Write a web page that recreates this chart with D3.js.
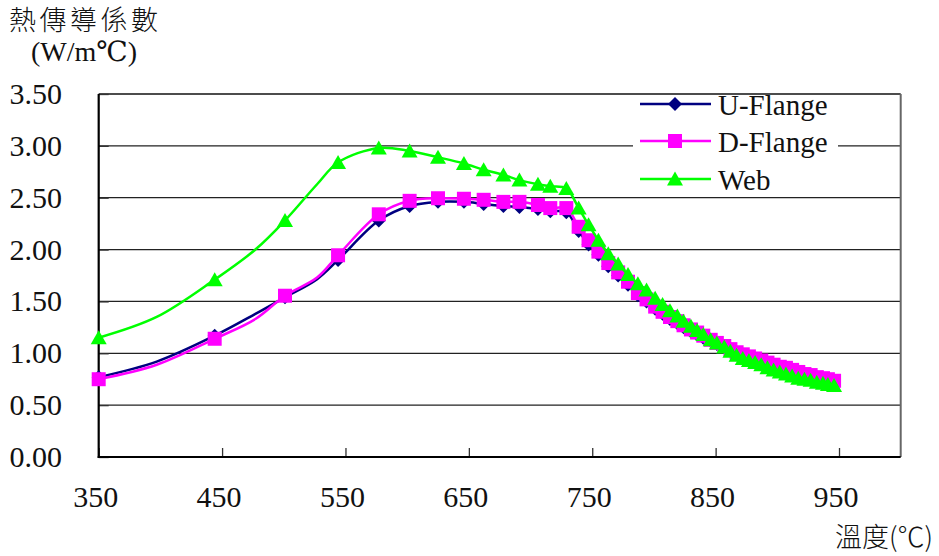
<!DOCTYPE html>
<html><head><meta charset="utf-8">
<script src="https://cdn.jsdelivr.net/npm/d3@7"></script>
<style>body{margin:0;background:#fff}svg{display:block}.sf{font-family:"Liberation Serif","Times New Roman",Times,Tinos,"DejaVu Serif","Noto Serif",serif}.cjk{font-family:"Noto Sans CJK TC","Noto Sans CJK SC",sans-serif}</style>
</head><body><svg id="c" width="939" height="556"></svg>
<script>
const temps = [350,397,444,477,501,527,544,577,602,625,646,662,678,691,706,716,729,739,747,755,763,771,779,787,794,801,807,813,819,824,830,835,840,846,851,857,862,867,872,877,882,887,892,897,902,907,912,917,922,927,932,937,941,946];
const unmarkedTemps = [397,477,527];
const uFlange = [0.77,0.92,1.17,1.38,1.54,1.715,1.90,2.28,2.42,2.46,2.46,2.44,2.42,2.41,2.39,2.37,2.36,2.18,2.05,1.95,1.84,1.75,1.66,1.56,1.50,1.43,1.38,1.33,1.29,1.25,1.21,1.18,1.15,1.12,1.09,1.06,1.03,1.00,0.98,0.96,0.94,0.92,0.90,0.88,0.86,0.85,0.83,0.81,0.79,0.78,0.76,0.75,0.74,0.72];
const dFlange = [0.75,0.89,1.14,1.33,1.555,1.73,1.945,2.34,2.47,2.495,2.49,2.48,2.46,2.46,2.43,2.40,2.40,2.22,2.09,1.98,1.87,1.78,1.69,1.58,1.52,1.45,1.40,1.35,1.31,1.27,1.23,1.20,1.17,1.13,1.10,1.07,1.04,1.01,0.99,0.97,0.95,0.93,0.91,0.89,0.87,0.86,0.84,0.82,0.80,0.79,0.77,0.76,0.75,0.735];
const web = [1.15,1.35,1.71,2.00,2.28,2.63,2.84,2.98,2.95,2.89,2.83,2.77,2.72,2.67,2.63,2.61,2.59,2.40,2.24,2.09,1.96,1.86,1.76,1.67,1.61,1.53,1.47,1.41,1.36,1.31,1.26,1.22,1.18,1.13,1.10,1.06,1.02,0.98,0.95,0.93,0.91,0.89,0.86,0.84,0.82,0.80,0.78,0.76,0.75,0.74,0.72,0.71,0.70,0.69];
const seriesNames = ["U-Flange","D-Flange","Web"];
const seriesColors = ["#000080","#FF00FF","#00FF00"];
const seriesMarkers = ["diamond","square","triangle"];
const xTicks = [350,450,550,650,750,850,950];
const yTicks = [0,0.5,1,1.5,2,2.5,3,3.5];
const yTitle1 = "熱傳導係數", yTitle2 = "(W/m℃)", xTitle = "溫度(℃)";

const svg = d3.select("#c");
const L = 98.7, R = 900.7, T = 94, B = 457;
const x = d3.scaleLinear().domain([350,1000]).range([L,R]);
const y = d3.scaleLinear().domain([0,3.5]).range([B,T]);

svg.append("g").selectAll("line").data(yTicks.filter(v=>v>0 && v<3.5)).join("line")
  .attr("x1",L).attr("x2",R).attr("y1",d=>y(d)).attr("y2",d=>y(d))
  .attr("stroke","#222").attr("stroke-width",1.3);
svg.append("line").attr("x1",L).attr("x2",R).attr("y1",T).attr("y2",T).attr("stroke","#111").attr("stroke-width",1.5);
svg.append("line").attr("x1",R).attr("x2",R).attr("y1",T).attr("y2",B).attr("stroke","#666").attr("stroke-width",2);

const yAxis = d3.axisRight(y).tickValues(yTicks).tickSize(10).tickFormat("");
const gy = svg.append("g").attr("transform",`translate(${L},0)`).call(yAxis);
gy.select(".domain").remove();
gy.selectAll(".tick line").attr("stroke","#333").attr("stroke-width",1.3);
const xAxis = d3.axisTop(x).tickValues(xTicks).tickSize(9).tickFormat("");
const gx = svg.append("g").attr("transform",`translate(0,${B})`).call(xAxis);
gx.select(".domain").remove();
gx.selectAll(".tick line").attr("stroke","#333").attr("stroke-width",1.3);
svg.append("line").attr("x1",L).attr("x2",L).attr("y1",T).attr("y2",B+1).attr("stroke","#000").attr("stroke-width",2.2);
svg.append("line").attr("x1",L-1).attr("x2",R).attr("y1",B).attr("y2",B).attr("stroke","#000").attr("stroke-width",2.2);

svg.append("g").selectAll("text").data(yTicks).join("text").attr("class","sf")
  .attr("x",62).attr("y",d=>y(d)+10).attr("text-anchor","end")
  .attr("font-size",30).attr("fill","#111")
  .text(d=>d3.format(".2f")(d));
svg.append("g").selectAll("text").data(xTicks).join("text").attr("class","sf")
  .attr("x",d=>x(d)-3).attr("y",507).attr("text-anchor","middle")
  .attr("font-size",30).attr("fill","#111")
  .text(d=>d);

svg.append("text").attr("class","cjk").attr("x",9).attr("y",30)
  .attr("font-size",27).attr("font-weight",300).attr("letter-spacing",3.5).attr("fill","#111").text(yTitle1);
svg.append("text").attr("class","sf").attr("x",31).attr("y",61)
  .attr("font-size",28).attr("fill","#111").text(yTitle2);
svg.append("text").attr("class","cjk").attr("x",933).attr("y",547).attr("text-anchor","end")
  .attr("font-size",27).attr("font-weight",300).attr("fill","#111").text(xTitle);

function markerPath(kind){
  if(kind==="diamond") return "M0,-7L7,0L0,7L-7,0Z";
  if(kind==="square") return "M-7,-7H7V7H-7Z";
  return "M0,-7.5L8,6.5H-8Z";
}

const allSeries = [uFlange,dFlange,web];
const line = d3.line().x(d=>x(d.t)).y(d=>y(d.v)).curve(d3.curveCatmullRom.alpha(0.5));
allSeries.forEach((vals,i)=>{
  const pts = temps.map((t,j)=>({t, v: vals[j]}));
  const g = svg.append("g");
  g.append("path").attr("d",line(pts)).attr("fill","none")
    .attr("stroke",seriesColors[i]).attr("stroke-width",2.5);
  g.selectAll("path.m").data(pts.filter(p=>!unmarkedTemps.includes(p.t))).join("path")
    .attr("class","m").attr("d",markerPath(seriesMarkers[i]))
    .attr("transform",p=>`translate(${x(p.t)},${y(p.v)})`)
    .attr("fill",seriesColors[i]);
});

const lg = svg.append("g");
lg.append("rect").attr("x",633).attr("y",95).attr("width",205).attr("height",100).attr("fill","#fff");
const rows = [104,141,179];
seriesNames.forEach((n,i)=>{
  lg.append("line").attr("x1",640).attr("x2",711).attr("y1",rows[i]).attr("y2",rows[i])
    .attr("stroke",seriesColors[i]).attr("stroke-width",2.5);
  lg.append("path").attr("d",markerPath(seriesMarkers[i]))
    .attr("transform",`translate(675,${rows[i]})`).attr("fill",seriesColors[i]);
  lg.append("text").attr("class","sf").attr("x",718).attr("y",rows[i]+11)
    .attr("font-size",29).attr("fill","#111").text(n);
});
</script></body></html>
